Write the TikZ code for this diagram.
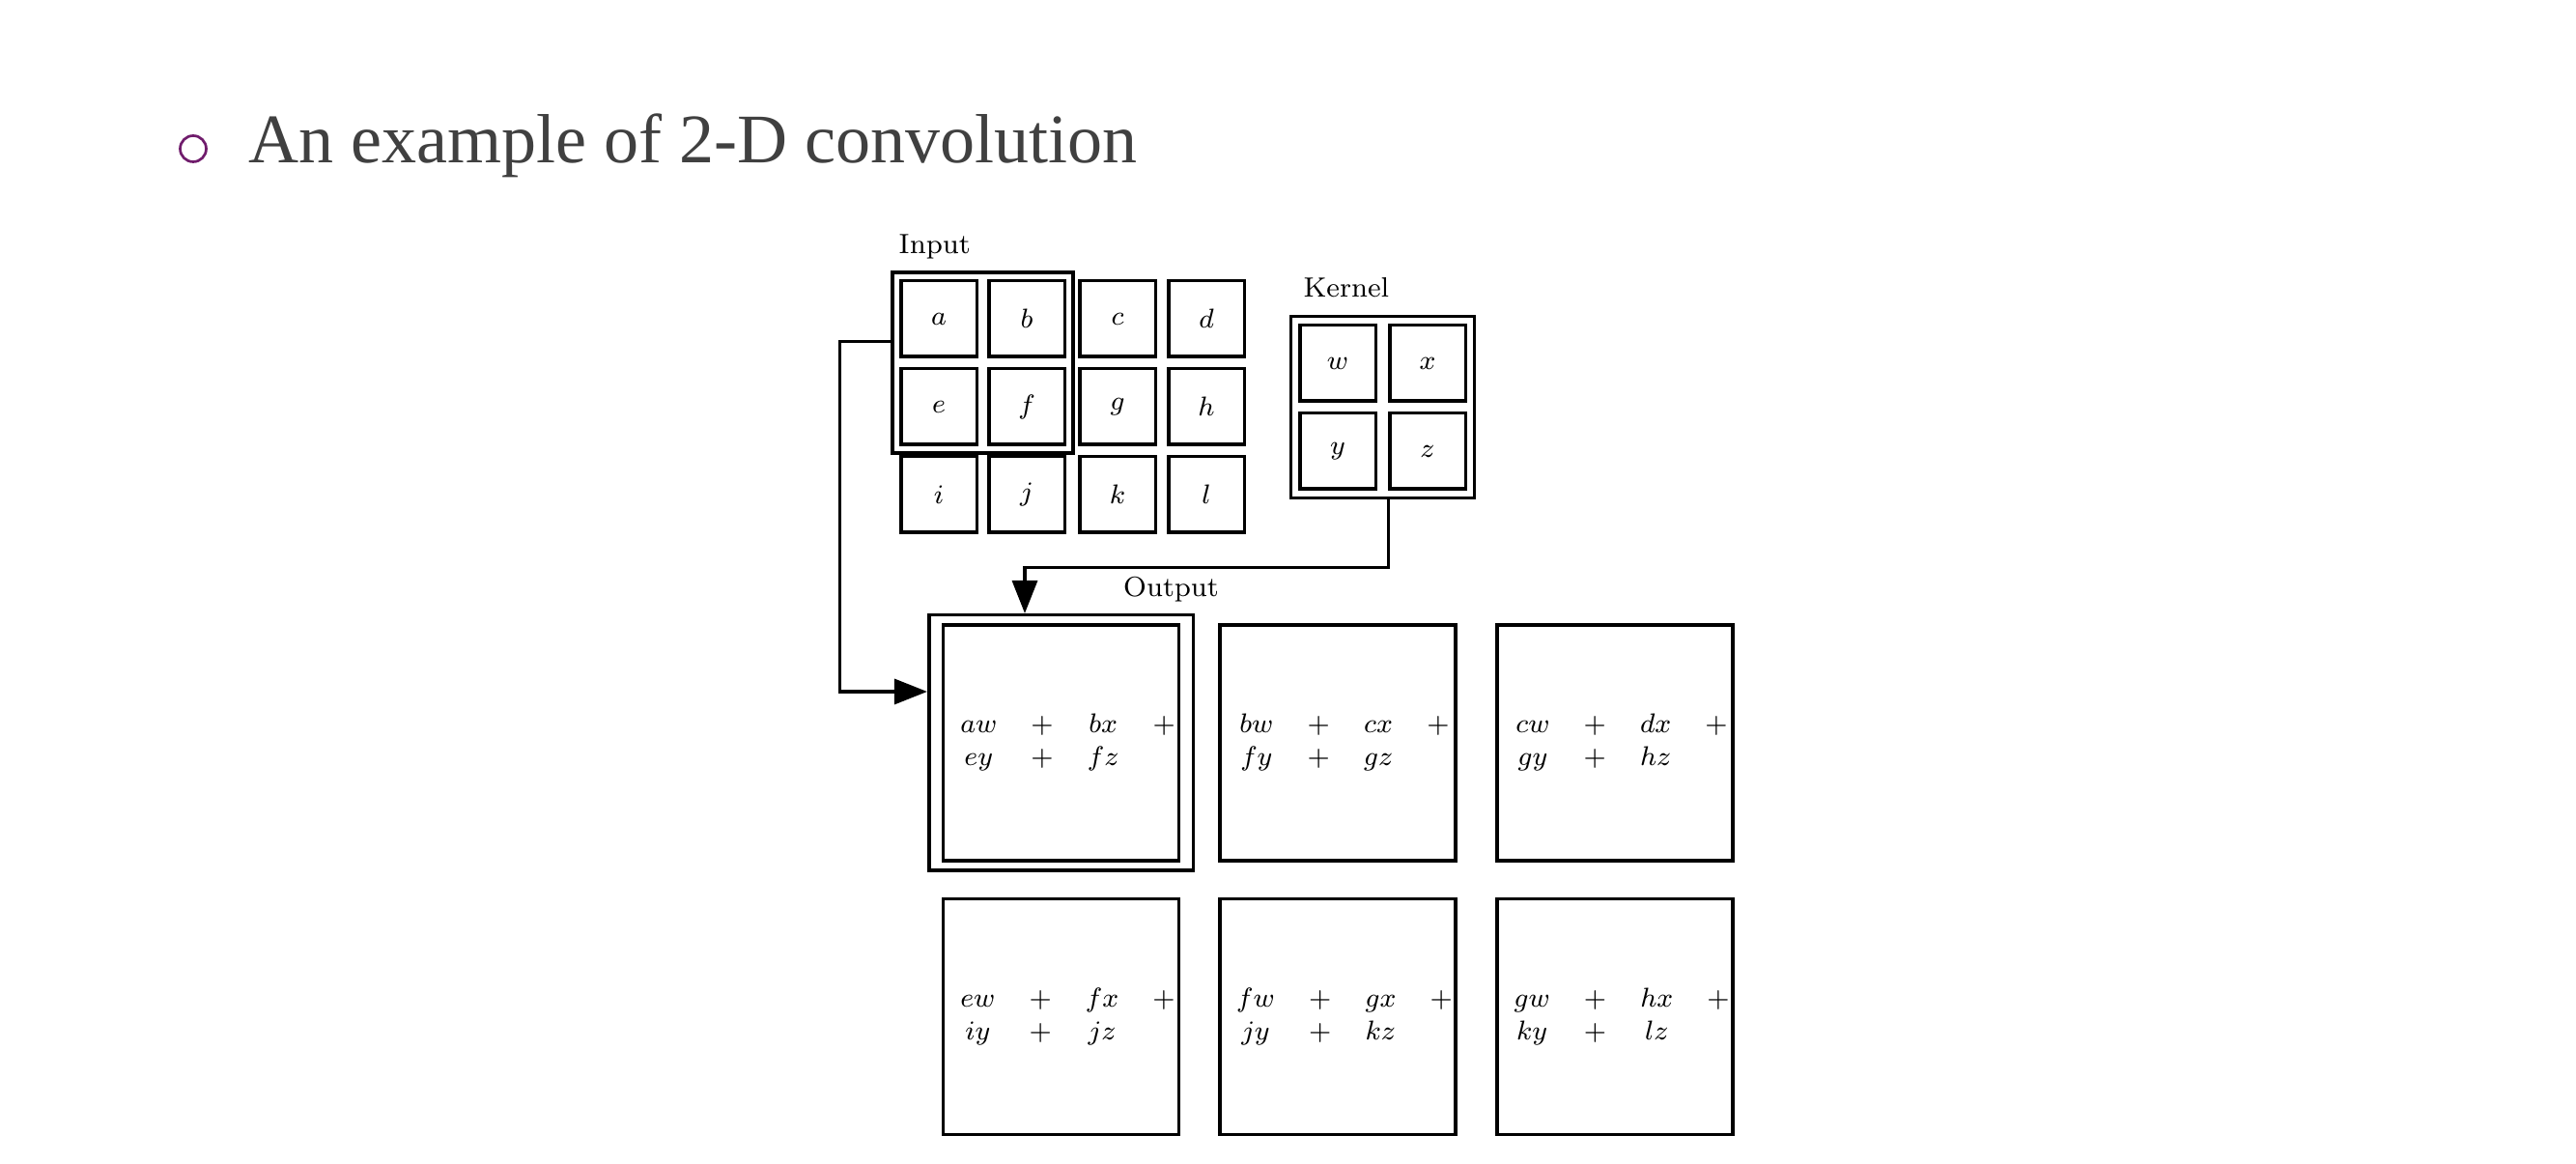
\documentclass[tikz,border=0pt]{standalone}
\usepackage{fontspec}
\usetikzlibrary{positioning, fit, arrows.meta}
\newfontfamily\titlefont{Liberation Serif}
\definecolor{bulletpurple}{RGB}{112,28,108}
\definecolor{titlegray}{RGB}{64,64,64}
\newcommand{\convsum}[4]{$\begin{array}{@{\hspace{0.14cm}}cccc@{}} #1 & + & #2 & + \\ #3 & + & #4 & \end{array}$}

\begin{document}
\begin{tikzpicture}[
		cell/.style={draw, line width=1pt, minimum size=0.785cm, inner sep=0pt, font=\fontsize{8.3}{9.6}\selectfont},
		bigcell/.style={draw, line width=1pt, minimum size=2.44cm, inner sep=0pt, font=\fontsize{8.3}{9.6}\selectfont},
		window/.style={draw, line width=1pt, inner sep=0.07cm},
		tag/.style={anchor=base west, inner sep=0pt, font=\fontsize{8.2}{10}\selectfont},
		conn/.style={line width=0.95pt, -{Triangle[length=0.34cm, width=0.26cm]}}
		]
		\useasboundingbox (0,0) rectangle (26.67,-12.05);
		
		% ==========================================
		% Title
		% ==========================================
		\draw[bulletpurple, line width=0.027cm] (2.00,-1.54) circle (0.135);
		\node[anchor=base west, inner sep=0pt, text=titlegray, font=\titlefont\fontsize{20.5}{24}\selectfont] (title) at (2.565,-1.683) {An example of 2-D convolution};
		
		% ==========================================
		% Input 3x4
		% ==========================================
		\node[tag] (inlabel) at (9.30,-2.63) {Input};
		
		\node[cell] (a) at (9.72,-3.30) {$a$};
		\node[cell] (b) at (10.63,-3.30) {$b$};
		\node[cell] (c) at (11.57,-3.30) {$c$};
		\node[cell] (d) at (12.49,-3.30) {$d$};
		
		\node[cell] (e) at (9.72,-4.21) {$e$};
		\node[cell] (f) at (10.63,-4.21) {$f$};
		\node[cell] (g) at (11.57,-4.21) {$g$};
		\node[cell] (h) at (12.49,-4.21) {$h$};
		
		\node[cell] (i) at (9.72,-5.12) {$i$};
		\node[cell] (j) at (10.63,-5.12) {$j$};
		\node[cell] (k) at (11.57,-5.12) {$k$};
		\node[cell] (l) at (12.49,-5.12) {$l$};
		
		% window over the first patch
		\node[window, fit=(a)(f)] (inwin) {};
		
		% ==========================================
		% Kernel 2x2
		% ==========================================
		\node[tag] (klabel) at (13.49,-3.08) {Kernel};
		
		\node[cell] (w) at (13.85,-3.76) {$w$};
		\node[cell] (x) at (14.78,-3.76) {$x$};
		\node[cell] (y) at (13.85,-4.67) {$y$};
		\node[cell] (z) at (14.78,-4.67) {$z$};
		
		\node[window, inner sep=0.075cm, fit=(w)(z)] (kwin) {};
		
		% ==========================================
		% Output 2x3
		% ==========================================
		\node[tag] (outlabel) at (11.625,-6.18) {Output};
		
		\node[bigcell] (o1) at (10.985,-7.69) {\convsum{aw}{bx}{ey}{fz}};
		\node[bigcell] (o2) at (13.85,-7.69) {\convsum{bw}{cx}{fy}{gz}};
		\node[bigcell] (o3) at (16.72,-7.69) {\convsum{cw}{dx}{gy}{hz}};
		
		\node[bigcell] (o4) at (10.985,-10.525) {\convsum{ew}{fx}{iy}{jz}};
		\node[bigcell] (o5) at (13.85,-10.525) {\convsum{fw}{gx}{jy}{kz}};
		\node[bigcell] (o6) at (16.72,-10.525) {\convsum{gw}{hx}{ky}{lz}};
		
		\node[window, inner xsep=0.13cm, inner ysep=0.085cm, fit=(o1)] (outwin) {};
		
		% connectors
		\draw[conn] ([yshift=2.2mm]inwin.west) -- ++(-0.53,0) |- ([yshift=5.3mm]outwin.west);
		\draw[conn] ([xshift=0.6mm]kwin.south) -- ++(0,-0.70) -| ([xshift=-3.75mm]outwin.north);
		
	\end{tikzpicture}
\end{document}
